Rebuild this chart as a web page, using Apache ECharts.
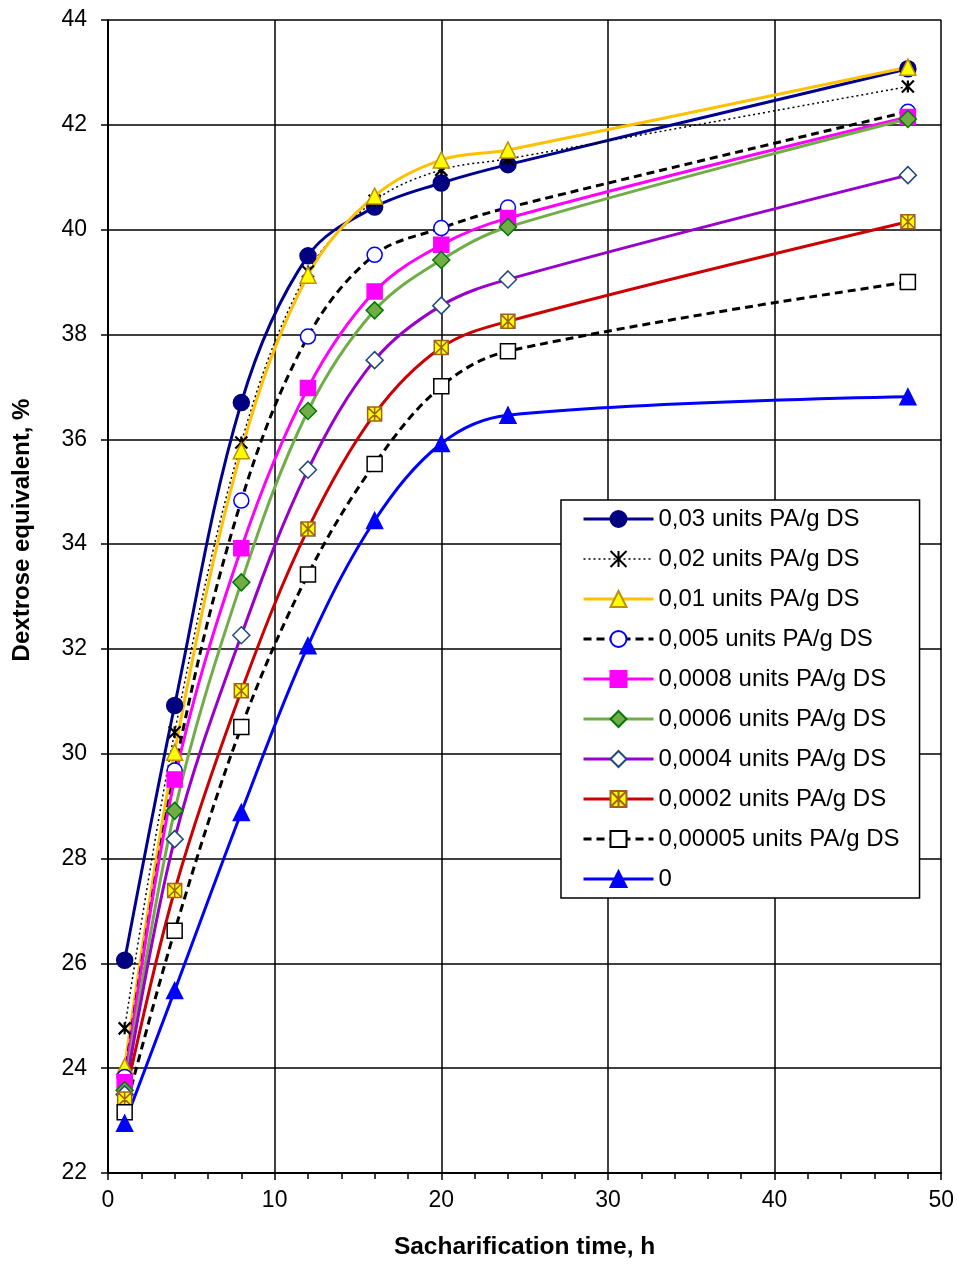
<!DOCTYPE html>
<html>
<head>
<meta charset="utf-8">
<script src="https://cdn.jsdelivr.net/npm/echarts@6/dist/echarts.min.js"></script>
<style>
  html, body { margin: 0; padding: 0; background: #fff; }
  #chart { width: 957px; height: 1265px; }
</style>
</head>
<body>
<div id="chart"></div>
<script>
// saccharification time, h
var hours = [1, 4, 8, 12, 16, 20, 24, 48];

// dextrose equivalent, % (one array per PA dose)
var pa003 = [26.06, 30.92, 36.70, 39.50, 40.43, 40.89, 41.24, 43.07];
var pa002 = [24.76, 30.41, 35.94, 39.20, 40.55, 41.14, 41.35, 42.73];
var pa001 = [24.03, 30.03, 35.78, 39.13, 40.64, 41.33, 41.52, 43.10];
var pa0005 = [23.83, 29.68, 34.83, 37.96, 39.52, 40.03, 40.42, 42.25];
var pa00008 = [23.73, 29.51, 33.92, 36.98, 38.82, 39.71, 40.22, 42.15];
var pa00006 = [23.58, 28.91, 33.27, 36.54, 38.46, 39.42, 40.05, 42.11];
var pa00004 = [23.50, 28.37, 32.26, 35.42, 37.51, 38.55, 39.05, 41.04];
var pa00002 = [23.41, 27.39, 31.20, 34.29, 36.48, 37.75, 38.25, 40.15];
var pa000005 = [23.16, 26.62, 30.51, 33.42, 35.53, 37.01, 37.68, 39.00];
var pa0 = [22.95, 25.48, 28.88, 32.06, 34.45, 35.92, 36.46, 36.81];

var seriesNames = [
  '0,03 units PA/g DS', '0,02 units PA/g DS', '0,01 units PA/g DS',
  '0,005 units PA/g DS', '0,0008 units PA/g DS', '0,0006 units PA/g DS',
  '0,0004 units PA/g DS', '0,0002 units PA/g DS', '0,00005 units PA/g DS', '0'
];

var xTicks = [0, 10, 20, 30, 40, 50];
var yTicks = [22, 24, 26, 28, 30, 32, 34, 36, 38, 40, 42, 44];

var FONT = 'Liberation Sans, Arial, sans-serif';
var ASTER = 'path://M0 0L10 10M10 0L0 10M5 0V10';
var ASTER_BOX = 'path://M0 0H10V10H0ZM0 0L10 10M10 0L0 10M5 0V10';

// [x, y] pairs
function pairs (vals) {
  var out = [];
  for (var i = 0; i < hours.length; i++) {
    out.push([hours[i], vals[i]]);
  }
  return out;
}

function mkSeries (name, vals, line, sym) {
  return {
    name: name,
    type: 'line',
    data: pairs(vals),
    smooth: 0.35,
    symbol: sym.symbol,
    symbolSize: sym.size,
    showAllSymbol: true,
    lineStyle: {
      color: line.color,
      width: line.width || 3,
      type: line.type || 'solid'
    },
    itemStyle: {
      color: sym.fill,
      borderColor: sym.stroke,
      borderWidth: sym.bw || 1.5
    },
    emphasis: { disabled: true }
  };
}

var series = [
  mkSeries(seriesNames[0], pa003, { color: '#000090' }, { symbol: 'circle', size: 16, fill: '#000080', stroke: '#000080' }),
  mkSeries(seriesNames[1], pa002, { color: '#000', width: 1.5, type: [2, 3] }, { symbol: ASTER, size: 12, fill: '#000', stroke: '#000', bw: 2.2 }),
  mkSeries(seriesNames[2], pa001, { color: '#FFC000' }, { symbol: 'triangle', size: 16, fill: '#FFFF00', stroke: '#BF9000' }),
  mkSeries(seriesNames[3], pa0005, { color: '#000', type: [8, 5] }, { symbol: 'circle', size: 15, fill: '#fff', stroke: '#0000FF' }),
  mkSeries(seriesNames[4], pa00008, { color: '#FF00FF' }, { symbol: 'rect', size: 15, fill: '#FF00FF', stroke: '#FF00FF' }),
  mkSeries(seriesNames[5], pa00006, { color: '#70AD47' }, { symbol: 'diamond', size: 17, fill: '#70AD47', stroke: '#007A00' }),
  mkSeries(seriesNames[6], pa00004, { color: '#9900CC' }, { symbol: 'diamond', size: 17, fill: '#fff', stroke: '#1F497D' }),
  mkSeries(seriesNames[7], pa00002, { color: '#CC0000' }, { symbol: ASTER_BOX, size: 14, fill: '#FFFF00', stroke: '#A0621A' }),
  mkSeries(seriesNames[8], pa000005, { color: '#000', type: [8, 5] }, { symbol: 'rect', size: 15, fill: '#fff', stroke: '#000' }),
  mkSeries(seriesNames[9], pa0, { color: '#0000FF' }, { symbol: 'triangle', size: 16, fill: '#0000FF', stroke: '#0000FF' })
];

// legend lines default to 2px, give them the series widths
var legendData = series.map(function (s) {
  return { name: s.name, lineStyle: { width: s.lineStyle.width } };
});

var option = {
  animation: false,
  backgroundColor: '#fff',
  grid: { left: 108, right: 15, top: 20, bottom: 91 },
  legend: {
    orient: 'vertical',
    left: 561,
    top: 500,
    data: legendData,
    selectedMode: false,
    itemWidth: 70,
    itemHeight: 20,
    itemGap: 16,
    padding: [7, 20, 7, 21],
    backgroundColor: '#fff',
    borderColor: '#000',
    borderWidth: 1.5,
    borderRadius: 0,
    textStyle: { fontFamily: FONT, fontSize: 24, color: '#000' }
  },
  xAxis: {
    type: 'value',
    min: xTicks[0],
    max: xTicks[xTicks.length - 1],
    interval: 10,
    name: 'Sacharification time, h',
    nameLocation: 'middle',
    nameGap: 62,
    nameTextStyle: { fontFamily: FONT, fontSize: 24.5, fontWeight: 'bold', color: '#000' },
    axisLine: { onZero: false, lineStyle: { color: '#000', width: 2 } },
    axisTick: { show: true, length: 7, lineStyle: { color: '#000', width: 1.5 } },
    minorTick: { show: true, splitNumber: 5, length: 6, lineStyle: { color: '#000', width: 1.5 } },
    splitLine: { show: true, lineStyle: { color: '#000', width: 1.5 } },
    axisLabel: { fontFamily: FONT, fontSize: 23, color: '#000', margin: 16 }
  },
  yAxis: {
    type: 'value',
    min: yTicks[0],
    max: yTicks[yTicks.length - 1],
    interval: 2,
    axisLine: { onZero: false, lineStyle: { color: '#000', width: 2 } },
    axisTick: { show: true, length: 7, lineStyle: { color: '#000', width: 1.5 } },
    splitLine: { show: true, lineStyle: { color: '#000', width: 1.5 } },
    axisLabel: { fontFamily: FONT, fontSize: 23, color: '#000', margin: 21 }
  },
  graphic: [{
    type: 'text',
    x: 22,
    y: 530,
    rotation: Math.PI / 2,
    style: {
      text: 'Dextrose equivalent, %',
      font: 'bold 24px ' + FONT,
      fill: '#000',
      align: 'center',
      verticalAlign: 'middle'
    }
  }],
  series: series
};

var myChart = echarts.init(document.getElementById('chart'), null, { renderer: 'canvas' });
myChart.setOption(option);
</script>
</body>
</html>
